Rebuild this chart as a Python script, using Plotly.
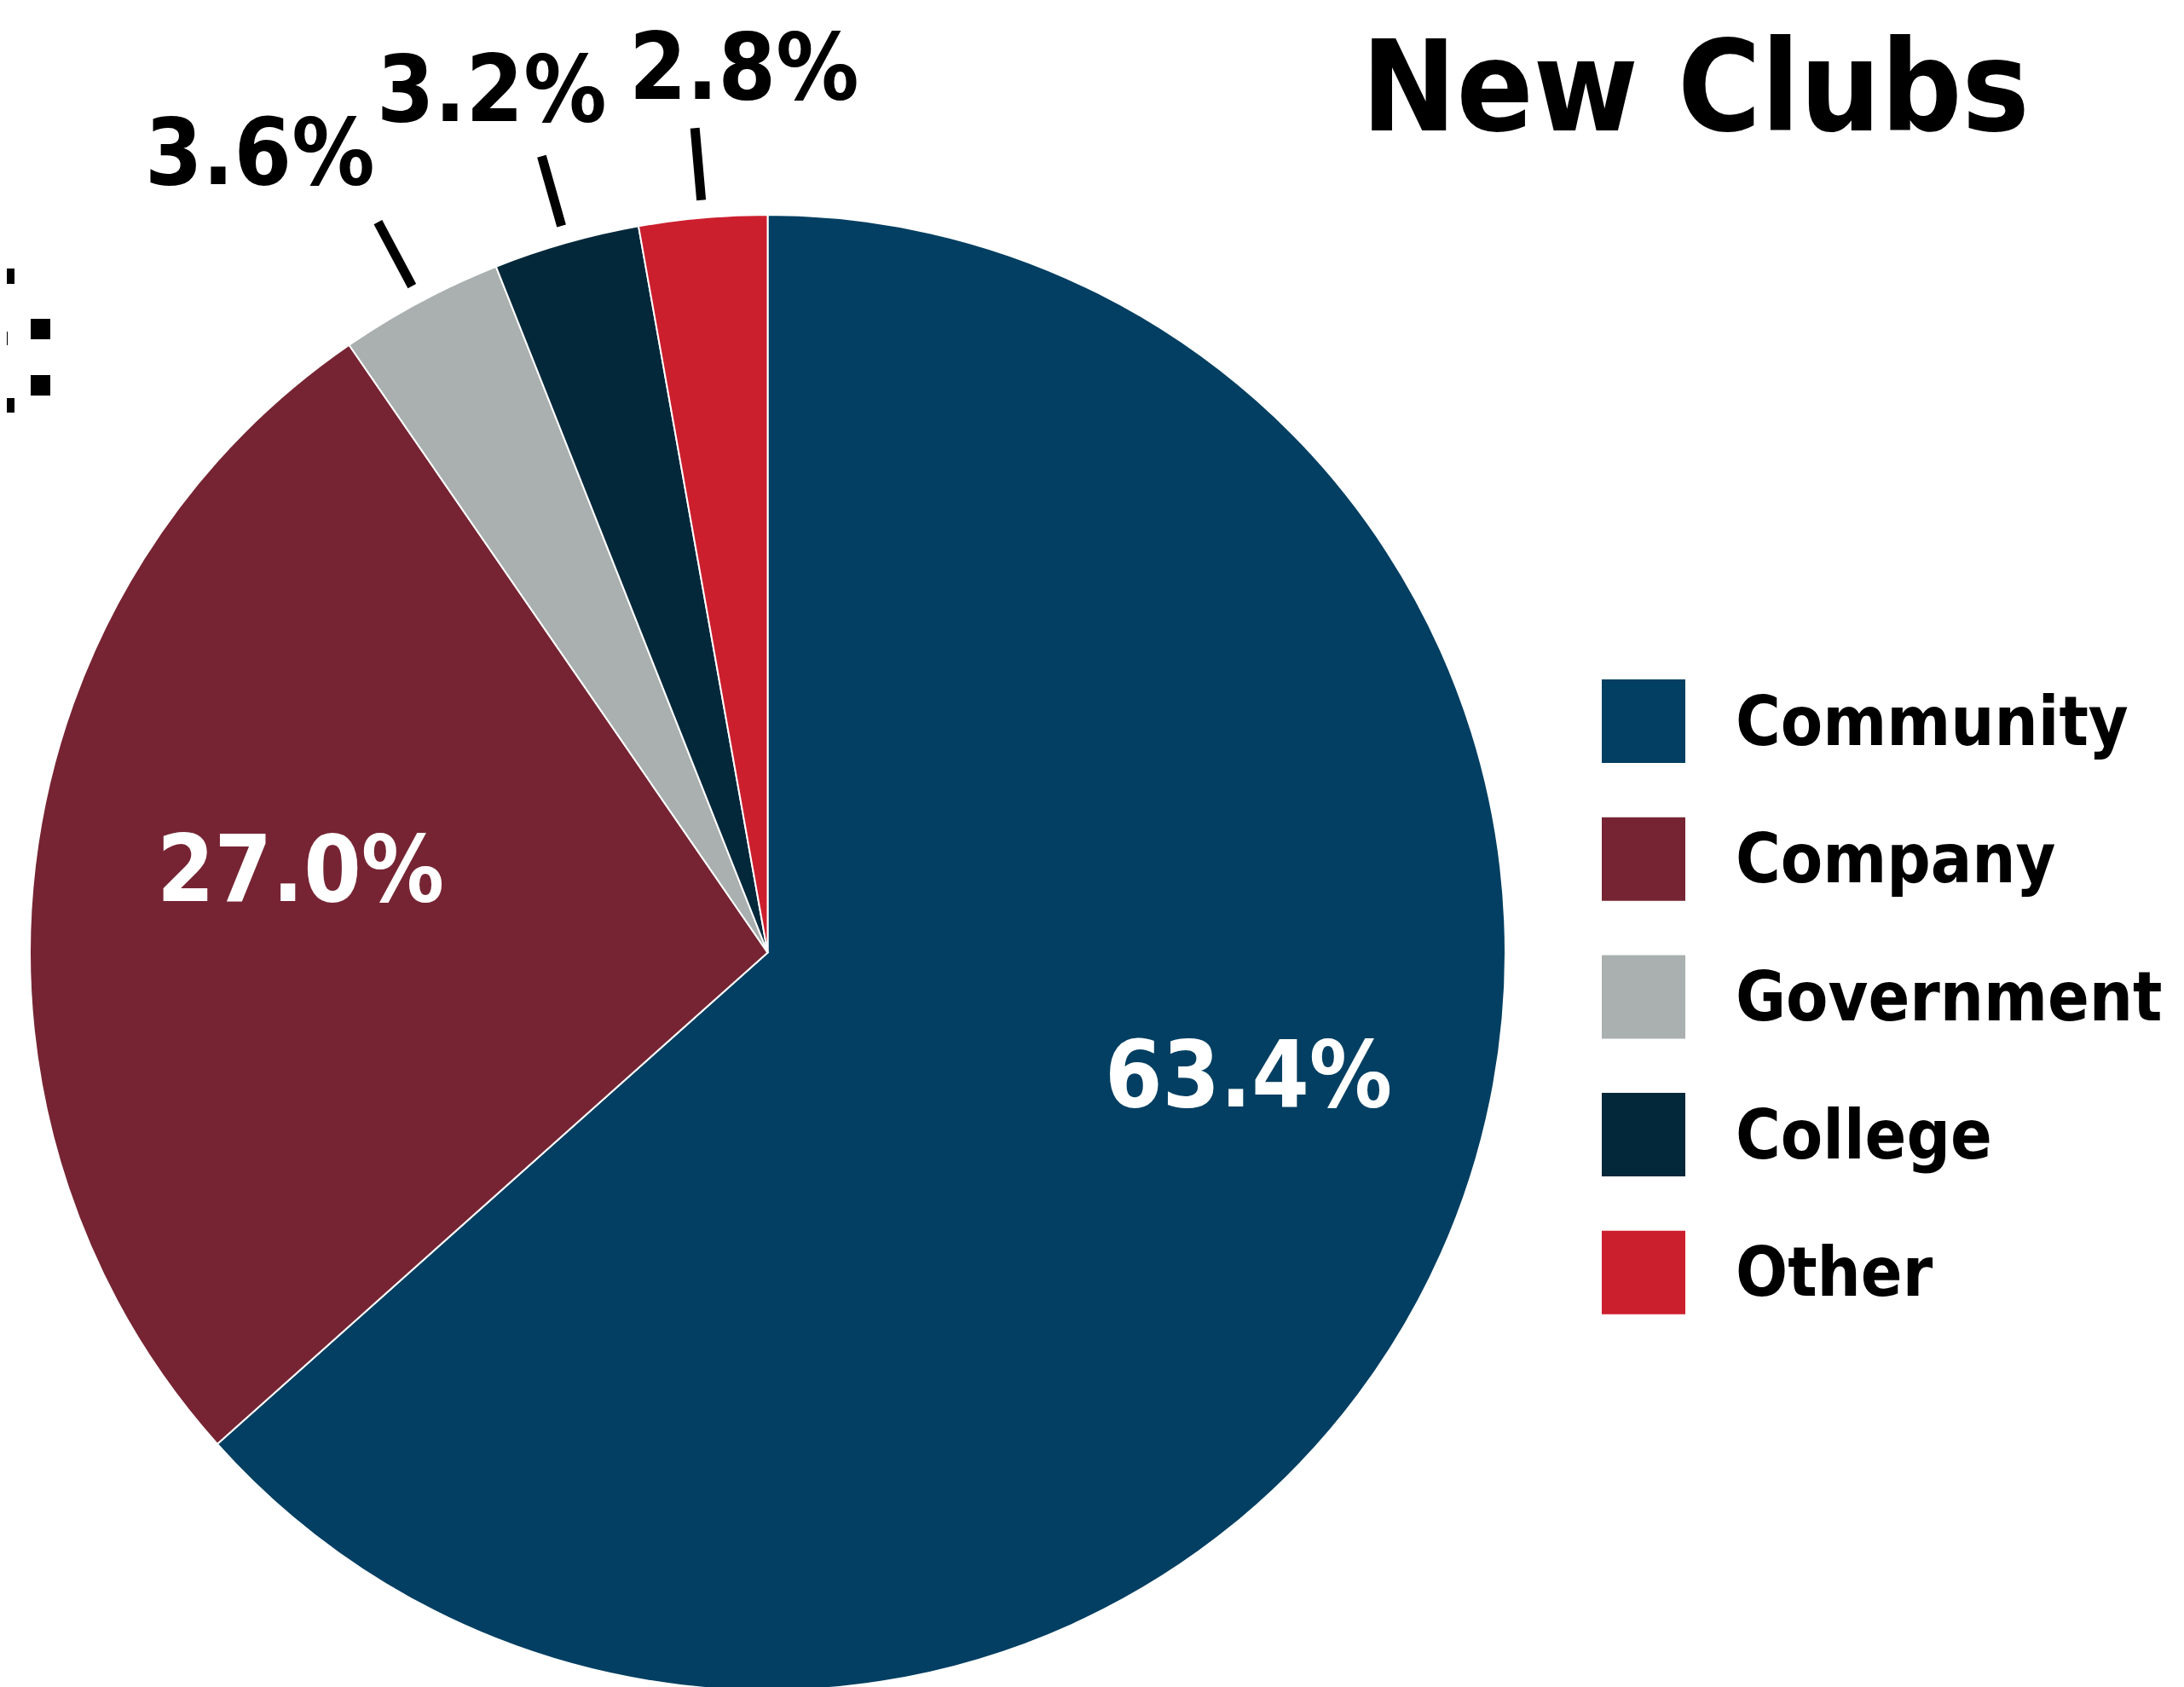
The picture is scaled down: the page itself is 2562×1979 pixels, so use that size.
import math
import plotly.graph_objects as go

# ---- data ----
categories = ["Community", "Company", "Government", "College", "Other"]
values = [63.4, 27.0, 3.6, 3.2, 2.8]
value_labels = ["63.4%", "27.0%", "3.6%", "3.2%", "2.8%"]
colors = ["#023F62", "#762433", "#A9B0AF", "#03283A", "#CC1F2E"]
title_text = "New Clubs"

# ---- layout constants (page pixels) ----
W, H = 2562, 1979
OFF = 8  # default body margin of the html page
CX, CY, R = 900.5, 1117.5, 865.5
FONT = "DejaVu Sans Condensed, Liberation Sans Narrow, Arial Narrow, sans-serif"

label_inside = [True, True, False, False, False]
label_rf = [0.672, 0.643, 1.285, 1.229, 1.201]
label_dang = [-9.9, 3.3, -4.3, -1.9, 3.5]
leader_r = (1.024, 1.122)

total = sum(values)
cum = 0.0
mid_angles = []
for v in values:
    mid_angles.append(360.0 * (cum + v / 2) / total)
    cum += v


def polar(r, ang):
    a = math.radians(ang)
    return CX + r * math.sin(a), CY - r * math.cos(a)


fig = go.Figure()

fx0, fx1 = CX - R - OFF, CX + R - OFF
fy_top, fy_bot = CY - R - OFF, CY + R - OFF
fig.add_trace(go.Pie(
    labels=categories, values=values, sort=False, direction="clockwise",
    rotation=0, textinfo="none", hoverinfo="skip", showlegend=False,
    marker=dict(colors=colors, line=dict(color="white", width=2)),
    domain=dict(x=[fx0 / W, fx1 / W],
                y=[max(0.0, (H - fy_bot) / H), min(1.0, (H - fy_top) / H)]),
))

# leader lines for outside labels
lx, ly = [], []
for i, inside in enumerate(label_inside):
    if inside:
        continue
    x0, y0 = polar(R * leader_r[0], mid_angles[i])
    x1, y1 = polar(R * leader_r[1], mid_angles[i])
    lx += [x0, x1, None]
    ly += [y0, y1, None]
fig.add_trace(go.Scatter(x=lx, y=ly, mode="lines", line=dict(color="black", width=11),
                         hoverinfo="skip", showlegend=False))

# legend swatches
LEG_X, LEG_Y0, LEG_DY, LEG_TX = 1928, 846, 161.7, 2034
fig.add_trace(go.Scatter(
    x=[LEG_X] * len(categories), y=[LEG_Y0 + i * LEG_DY for i in range(len(categories))],
    mode="markers", marker=dict(symbol="square", size=98, color=colors, line=dict(width=0)),
    hoverinfo="skip", showlegend=False))

annotations = []
for i, lab in enumerate(value_labels):
    x, y = polar(R * label_rf[i], mid_angles[i] + label_dang[i])
    annotations.append(dict(
        x=x, y=y, xref="x", yref="y", text=lab, showarrow=False,
        xanchor="center", yanchor="middle",
        font=dict(family=FONT, size=108, weight="bold",
                  color="white" if label_inside[i] else "black")))

for i, c in enumerate(categories):
    annotations.append(dict(
        x=LEG_TX, y=LEG_Y0 + i * LEG_DY, xref="x", yref="y", text=c, showarrow=False,
        xanchor="left", yanchor="middle",
        font=dict(family=FONT, size=80, color="black", weight="bold")))

annotations.append(dict(
    x=1989, y=102, xref="x", yref="y", text=title_text, showarrow=False,
    xanchor="center", yanchor="middle",
    font=dict(family=FONT, size=148, color="black", weight="bold")))

# cropped fragment marks at the left edge
edge_marks = [(0, 315, 17, 333), (0, 389, 9, 405), (36, 374, 59, 398),
              (0, 467, 17, 484), (36, 440, 59, 464)]
shapes = [dict(type="rect", xref="x", yref="y", x0=a, y0=b, x1=c, y1=d,
               fillcolor="black", line=dict(width=0)) for a, b, c, d in edge_marks]

fig.update_layout(
    width=W, height=H, margin=dict(l=0, r=0, t=0, b=0),
    paper_bgcolor="white", plot_bgcolor="rgba(0,0,0,0)",
    xaxis=dict(range=[OFF, W + OFF], visible=False, fixedrange=True),
    yaxis=dict(range=[H + OFF, OFF], visible=False, fixedrange=True),
    annotations=annotations, shapes=shapes, showlegend=False,
)

fig.write_html("out.html")
